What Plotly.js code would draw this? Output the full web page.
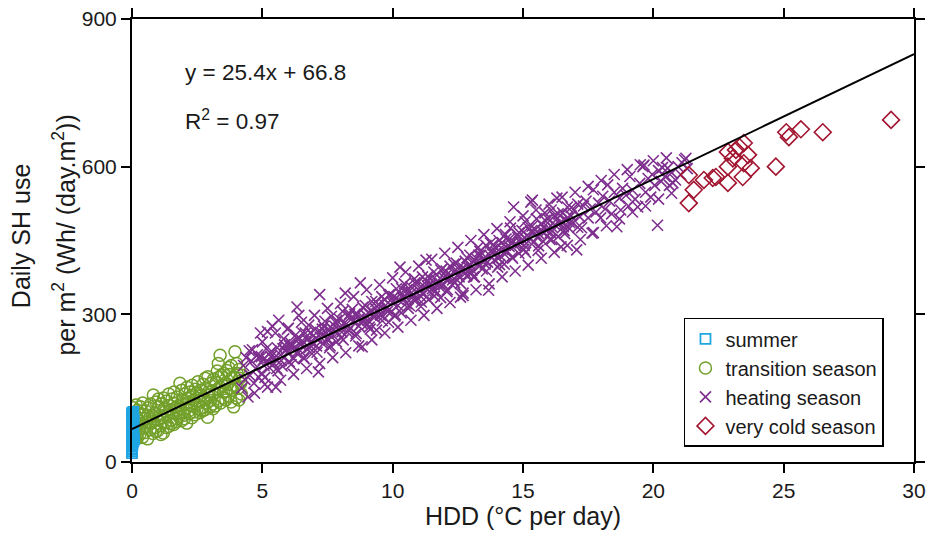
<!DOCTYPE html>
<html>
<head>
<meta charset="utf-8">
<script src="https://cdn.plot.ly/plotly-3.0.1.min.js"></script>
<style>html,body{margin:0;padding:0;background:#fff;}#chart{width:928px;height:536px;}</style>
</head>
<body>
<div id="chart"></div>
<script>
// ---- data ----
const seriesNames = ["summer", "transition season", "heating season", "very cold season"];

const summerX = [0,0,0,0,0,0.02,0.05,0,0.01,0,0.03,0,0,0.06,0.02,0,0,0.04,0.01,0,
                 0,0.07,0,0.03,0,0.02,0,0.05,0,0.01,0,0.04,0,0,0.08,0.02,0,0.03,0,0.01];
const summerY = [18,22,27,31,35,38,42,45,48,52,55,58,61,63,66,69,72,74,77,80,
                 82,85,88,90,93,96,99,102,25,40,50,60,70,84,46,57,65,78,92,33];

const transX = [
0.05,0.04,0.06, 0.10,0.11,0.09, 0.15,0.14,0.16,
0.20,0.22,0.18,0.21, 0.30,0.28,0.32,0.31, 0.40,0.38,0.42,0.41, 0.50,0.48,0.52,0.51,
0.60,0.58,0.62,0.61, 0.70,0.68,0.72,0.71, 0.80,0.78,0.82,0.81, 0.90,0.88,0.92,0.91,
1.00,0.97,1.03,1.01, 1.10,1.07,1.13,1.11, 1.20,1.17,1.23,1.21, 1.30,1.27,1.33,1.31,
1.40,1.37,1.43,1.41, 1.50,1.47,1.53,1.51, 1.60,1.57,1.63,1.61, 1.70,1.67,1.73,1.71,
1.80,1.77,1.84,1.81, 1.90,1.87,1.93,1.91, 2.00,1.97,2.03,2.01, 2.10,2.07,2.13,2.11,
2.20,2.17,2.23,2.21, 2.30,2.27,2.33,2.31, 2.40,2.37,2.43,2.41, 2.50,2.47,2.53,2.51,
2.60,2.57,2.63,2.61, 2.70,2.67,2.73,2.71, 2.80,2.77,2.83,2.81, 2.90,2.87,2.93,2.91,
3.00,2.97,3.03,3.01, 3.10,3.07,3.13,3.11, 3.20,3.17,3.23,3.27, 3.30,3.27,3.33,3.31,
3.40,3.37,3.43,3.38, 3.50,3.47,3.53,3.51, 3.60,3.57,3.63,3.61, 3.70,3.67,3.73,3.71,
3.80,3.77,3.83,3.81, 3.90,3.87,3.93,3.95, 4.00,3.97,4.03,4.01, 4.10,4.07,4.13,4.11,
4.20,4.17,4.22];
const transY = [
52,88,110, 45,70,98, 62,80,116,
48,75,92,105, 56,84,112,68, 50,78,96,120, 60,88,104,72,
47,82,110,93, 66,90,118,78, 58,95,136,84, 70,100,122,62,
64,86,112,128, 74,95,118,56, 59,90,108,130, 80,102,124,70,
72,96,115,138, 85,106,128,78, 76,100,120,142, 88,110,132,82,
92,114,160,100, 84,108,126,146, 95,118,138,88, 79,110,130,152,
98,122,142,105, 90,116,136,156, 102,126,148,96, 108,130,163,118,
100,124,146,134, 110,136,158,104, 106,128,150,170, 91,120,142,173,
112,136,160,125, 118,144,168,108, 114,140,162,185, 124,148,172,200,
120,152,176,217, 130,156,180,142, 126,160,186,144, 134,158,178,192,
122,150,170,196, 112,146,172,224, 130,156,180,200, 126,150,170,188,
138,160,176];

const heatX = [
4.21,4.28,4.33,4.38, 4.45,4.52,4.58,4.62, 4.68,4.74,4.81,4.86, 4.93,4.98,5.04,5.10,
5.15,5.20,5.27,5.33, 5.38,5.45,5.52,5.57, 5.63,5.70,5.76,5.82, 5.90,5.96,6.03,6.08,
6.14,6.20,6.28,6.33, 6.40,6.45,6.53,6.58, 6.65,6.70,6.78,6.85, 6.90,6.95,7.03,7.08,
7.15,7.20,7.28,7.33, 7.40,7.46,7.53,7.58, 7.65,7.70,7.78,7.84, 7.90,7.96,8.03,8.08,
8.14,8.18,8.26,8.32, 8.38,8.45,8.52,8.58, 8.64,8.70,8.76,8.83, 8.90,8.95,9.03,9.08,
9.14,9.20,9.28,9.33, 9.38,9.44,9.52,9.58, 9.64,9.70,9.78,9.84, 9.90,9.96,10.03,10.08,
10.14,10.20,10.28,10.33, 10.38,10.45,10.52,10.58, 10.64,10.70,10.78,10.84, 10.90,10.95,11.03,11.08,
11.14,11.20,11.28,11.33, 11.38,11.44,11.52,11.58, 11.64,11.70,11.78,11.84, 11.90,11.96,12.03,12.08,
12.14,12.20,12.28,12.33, 12.38,12.44,12.52,12.60, 12.64,12.70,12.78,12.84, 12.90,12.96,13.03,13.08,
13.14,13.20,13.28,13.33, 13.38,13.44,13.52,13.58, 13.64,13.68,13.75,13.82, 13.90,13.96,14.03,14.08,
14.14,14.20,14.28,14.33, 14.40,14.46,14.52,14.58, 14.64,14.70,14.78,14.84, 14.90,14.96,15.03,15.08,
15.14,15.20,15.30,15.36, 15.40,15.46,15.52,15.58, 15.64,15.70,15.78,15.84, 15.90,15.96,16.03,16.08,
16.14,16.20,16.30,16.35, 16.40,16.46,16.52,16.58, 16.64,16.70,16.78,16.84, 16.90,16.96,17.06,17.10,
17.18,17.25,17.32, 17.42,17.50,17.58, 17.65,17.70,17.80, 17.90,17.98,18.06,
18.15,18.25,18.32, 18.40,18.50,18.60, 18.70,18.75,18.82, 18.95,19.05,19.10,
19.20,19.30,19.40, 19.48,19.60,19.64, 19.70,19.80,19.90, 19.96,20.05,20.16,
20.20,20.30,20.35, 20.45,20.55,20.62, 20.70,20.75,20.85, 20.95,21.05,21.10,
21.20,21.25,21.30,
5.06,4.96, 5.22,5.30, 5.47,5.55, 5.72,5.79, 5.99,6.05, 6.22,6.30, 6.47,6.55, 6.72,6.80,
6.98,7.05, 7.22,7.30, 7.47,7.55, 7.72,7.80, 7.98,8.05, 8.22,8.30, 8.47,8.55, 8.72,8.80,
8.98,9.05, 9.22,9.30, 9.47,9.55, 9.72,9.80, 9.98,10.05, 10.22,10.30, 10.47,10.55, 10.72,10.80,
10.98,11.05, 11.22,11.30, 11.47,11.55, 11.72,11.80, 11.98,12.05, 12.22,12.30, 12.47,12.55, 12.72,12.80,
12.98,13.05, 13.22,13.30, 13.47,13.55, 13.72,13.80, 13.98,14.05, 14.22,14.30, 14.47,14.55, 14.72,14.80,
14.98,15.05, 15.22,15.30, 15.47,15.55, 15.72,15.80, 15.98,16.05, 16.22,16.30, 16.47,16.55, 16.72,16.80];
const heatY = [
150,196,168,212, 132,176,205,228, 160,190,218,172, 262,180,208,158,
230,265,192,214, 276,200,152,232, 288,218,195,250, 226,270,204,242,
236,210,258,315, 298,226,246,212, 262,230,278,244, 220,256,270,236,
183,340,262,240, 286,250,270,232, 296,258,276,244, 262,290,252,306,
282,343,264,298, 272,310,288,256, 300,276,364,234, 292,318,280,304,
270,326,296,312, 268,320,300,336, 296,330,312,284, 340,306,326,296,
352,318,396,303, 334,362,322,344, 318,356,340,372, 330,364,348,316,
376,342,410,358, 330,372,352,386, 348,380,362,334, 392,360,378,346,
372,398,360,386, 364,404,380,335, 392,343,408,378, 396,420,384,408,
376,414,436,398, 420,392,412,440, 406,349,445,424, 410,436,396,450,
418,446,402,462, 428,452,475,416, 518,440,462,424, 446,470,432,488,
452,476,528,532, 446,472,494,430, 462,484,448,506, 470,494,452,512,
476,500,536,458, 484,437,506,470, 492,518,474,500, 486,512,431,524,
498,476,520, 530,496,514, 465,553,508, 526,496,540,
514,563,530, 504,548,478, 536,512,556, 542,520,580,
552,534,518, 566,600,603, 548,576,538, 584,562,481,
592,570,598, 580,597,562, 588,567,573, 600,584,608,
614,617,596,
196,214, 204,222, 212,190, 206,230, 224,236, 232,222, 238,262, 248,232,
240,252, 254,270, 262,248, 268,284, 274,264, 280,268, 286,300, 292,282,
298,288, 306,294, 312,298, 318,306, 324,336, 330,342, 336,350, 344,330,
350,338, 356,368, 362,348, 368,356, 374,388, 380,370, 388,376, 394,384,
400,390, 406,420, 412,402, 420,430, 426,414, 432,422, 438,446, 444,456,
452,440, 458,468, 464,456, 470,478, 476,466, 482,494, 488,478, 496,486];

// outer parts of the heating-season band (upper and lower edges)
const heatEdgeX = [
4.5,4.7, 5.0,5.2, 5.5,5.7, 6.0,6.2, 6.5,6.7, 7.0,7.2, 7.5,7.7, 8.0,8.2, 8.5,8.7,
9.0,9.2, 9.5,9.7, 10.0,10.2, 10.5,10.7, 11.0,11.2, 11.5,11.7, 12.0,12.2, 12.5,12.7,
13.0,13.2, 13.5,13.7, 14.0,14.2, 14.5,14.7, 15.0,15.2, 15.5,15.7, 16.0,16.2, 16.5,16.7,
17.0,17.2, 17.5,17.7, 18.0,18.2, 18.5,18.7, 19.0,19.2, 19.5,19.7, 20.0,20.2, 20.5,20.7,
4.85,5.1, 5.35,5.6, 5.85,6.1, 6.35,6.6, 6.85,7.1, 7.35,7.6, 7.85,8.1, 8.35,8.6,
8.85,9.1, 9.35,9.6, 9.85,10.1, 10.35,10.6, 10.85,11.1, 11.35,11.6, 11.85,12.1,
12.35,12.6, 12.85,13.1, 13.35,13.6, 13.85,14.1, 14.35,14.6, 14.85,15.1, 15.35,15.6,
15.85,16.1, 16.35,16.6, 16.85,17.1];
const heatEdgeY = [
226,140, 244,152, 262,166, 272,178, 284,190, 298,200, 312,212, 322,222, 336,236,
350,248, 360,262, 374,274, 386,288, 398,298, 412,312, 424,324, 436,338,
450,350, 462,362, 474,376, 488,388, 500,400, 512,414, 524,426, 538,440,
548,452, 560,466, 572,480, 584,494, 594,508, 604,520, 612,534, 618,546,
212,172, 225,185, 238,198, 250,210, 263,223, 276,236, 288,248, 301,261,
314,274, 326,287, 339,299, 352,312, 364,325, 377,337, 390,350,
402,363, 415,376, 428,388, 441,401, 453,414, 466,426, 479,439,
491,452, 504,464, 517,477];

const coldX = [21.36,21.36,21.55,21.94,22.28,22.40,22.86,22.86,22.86,23.05,23.17,23.30,
               23.43,23.47,23.47,23.63,23.74,24.70,25.10,25.20,25.66,26.50,29.12];
const coldY = [583,526,553,573,577,579,630,600,567,617,634,640,
               579,648,607,624,597,600,670,660,676,670,695];

// linear fit shown on the chart
const fitSlope = 25.4;
const fitIntercept = 66.8;
const fitR2 = 0.97;
const fitX = [0, 30];
const fitY = fitX.map(x => fitSlope * x + fitIntercept);

const xTicks = [0, 5, 10, 15, 20, 25, 30];
const yTicks = [0, 300, 600, 900];

// ---- styling ----
const FONT = "Liberation Sans, Arial, Helvetica, sans-serif";
const TXT = "#1a1a1a";
const colors = ["#1ea6e2", "#72a02a", "#7e2f8e", "#a2142f"];

const traces = [
  {x: transX, y: transY, name: seriesNames[1], legendrank: 2, type: "scatter", mode: "markers",
   marker: {symbol: "circle-open", size: 12, color: colors[1], line: {width: 1.5, color: colors[1]}}},
  {x: heatX.concat(heatEdgeX), y: heatY.concat(heatEdgeY), name: seriesNames[2], legendrank: 3,
   type: "scatter", mode: "markers",
   marker: {symbol: "x-thin-open", size: 11, color: colors[2], line: {width: 1.6, color: colors[2]}}},
  {x: coldX, y: coldY, name: seriesNames[3], legendrank: 4, type: "scatter", mode: "markers",
   marker: {symbol: "diamond-open", size: 13, color: colors[3], line: {width: 1.6, color: colors[3]}}},
  {x: summerX, y: summerY, name: seriesNames[0], legendrank: 1, type: "scatter", mode: "markers",
   cliponaxis: false,
   marker: {symbol: "square-open", size: 10, color: colors[0], line: {width: 1.8, color: colors[0]}}},
  {x: fitX, y: fitY, name: "linear fit", type: "scatter", mode: "lines", showlegend: false,
   line: {color: "#000", width: 2}}
];

const axisCommon = {
  showgrid: false, zeroline: false, showline: true, linecolor: "#000", linewidth: 2,
  mirror: "ticks", ticks: "outside", ticklen: 9, tickwidth: 2, tickcolor: "#000",
  tickfont: {family: FONT, size: 21, color: TXT}
};

const layout = {
  width: 928, height: 536,
  margin: {l: 132, r: 14, t: 19, b: 74, pad: 0},
  paper_bgcolor: "#fff", plot_bgcolor: "#fff",
  font: {family: FONT, color: TXT},
  showlegend: true,
  xaxis: Object.assign({}, axisCommon, {
    range: [0, 30], tickvals: xTicks, ticktext: xTicks.map(String),
    title: {text: "HDD (°C per day)", font: {family: FONT, size: 25, color: TXT}, standoff: 5}
  }),
  yaxis: Object.assign({}, axisCommon, {
    range: [0, 900], tickvals: yTicks, ticktext: yTicks.map(String)
  }),
  legend: {
    x: 0.9616, xanchor: "right", y: 0.034, yanchor: "bottom",
    bgcolor: "#fff", bordercolor: "#000", borderwidth: 1.5,
    font: {family: FONT, size: 20, color: TXT},
    itemwidth: 30, tracegroupgap: 0
  },
  annotations: [
    {xref: "paper", yref: "paper", x: 0.0652, y: 0.880, xanchor: "left", yanchor: "middle",
     showarrow: false, text: "y = " + fitSlope + "x + " + fitIntercept,
     font: {family: FONT, size: 22.5, color: TXT}},
    {xref: "paper", yref: "paper", x: 0.0652, y: 0.772, xanchor: "left", yanchor: "middle",
     showarrow: false, text: "R<sup>2</sup> = " + fitR2.toFixed(2),
     font: {family: FONT, size: 22.5, color: TXT}},
    {xref: "paper", yref: "paper", x: -0.1420, y: 0.512, xanchor: "center", yanchor: "middle",
     textangle: -90, showarrow: false, text: "Daily SH use",
     font: {family: FONT, size: 25, color: TXT}},
    {xref: "paper", yref: "paper", x: -0.0865, y: 0.512, xanchor: "center", yanchor: "middle",
     textangle: -90, showarrow: false, text: "per m<sup>2</sup> (Wh/ (day.m<sup>2</sup>))",
     font: {family: FONT, size: 25, color: TXT}}
  ]
};

Plotly.newPlot("chart", traces, layout, {staticPlot: true, displayModeBar: false});
</script>
</body>
</html>
